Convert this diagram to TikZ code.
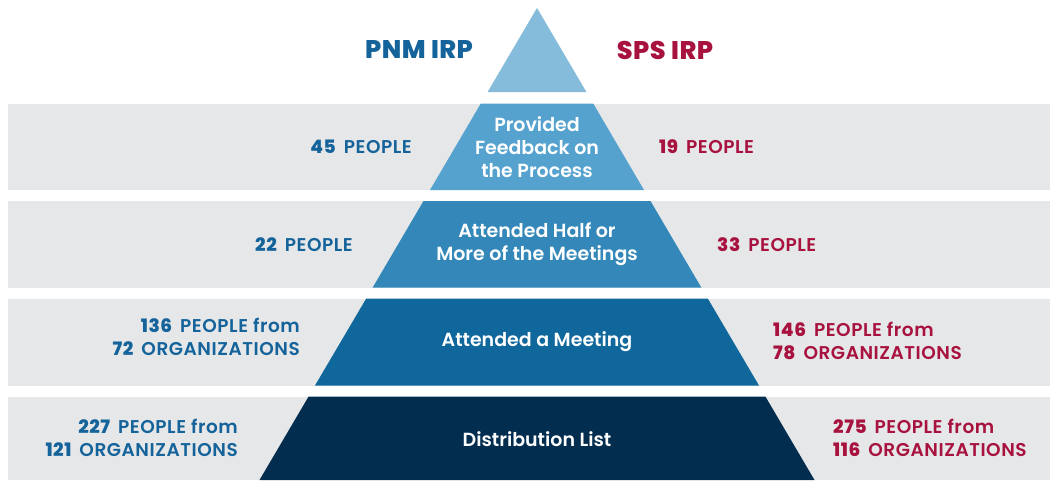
\documentclass[tikz,border=0pt]{standalone}
\usepackage{fontspec}
\setmainfont{Poppins}
\newfontfamily\semi{Poppins SemiBold}
\newfontfamily\semiwide{Poppins SemiBold}[LetterSpace=3]
\newfontfamily\heavy{Poppins ExtraBold}[LetterSpace=3]
\newfontfamily\heavytitle{Poppins ExtraBold}[LetterSpace=2]
\definecolor{bandgray}{HTML}{E6E7E8}
\definecolor{tierA}{HTML}{85BBDB}
\definecolor{tierB}{HTML}{55A2CF}
\definecolor{tierC}{HTML}{3388B9}
\definecolor{tierD}{HTML}{10679B}
\definecolor{tierE}{HTML}{032D4F}
\definecolor{pnmblue}{HTML}{15639B}
\definecolor{spsred}{HTML}{A8123F}
\newcommand{\num}[1]{{\heavy #1}\hspace{8pt}}
\begin{document}
\begin{tikzpicture}[x=1pt,y=-1pt,
  inner/.style={inner sep=0pt, text=white, align=center, font=\semi\fontsize{19}{23.3}\selectfont},
  pnm/.style={inner sep=0pt, text=pnmblue, align=right, anchor=east, font=\semiwide\fontsize{18.5}{23}\selectfont},
  sps/.style={inner sep=0pt, text=spsred, align=left, anchor=west, font=\semiwide\fontsize{18.5}{23}\selectfont},
  title/.style={inner sep=0pt, font=\heavytitle\fontsize{25.5}{30}\selectfont}]
\useasboundingbox (0,0) rectangle (1050,480);
\fill[white] (0,0) rectangle (1050,480);
% bands
\fill[bandgray] (8,103.5) rectangle (1050,190);
\fill[bandgray] (8,201) rectangle (1050,287.5);
\fill[bandgray] (8,298.7) rectangle (1050,385.5);
\fill[bandgray] (8,396.5) rectangle (1050,480);
% pyramid
\fill[tierA] (537,8) -- (586.4,92) -- (487.6,92) -- cycle;
\fill[tierB] (480.8,103.5) -- (593.2,103.5) -- (644.0,190) -- (430.0,190) -- cycle;
\fill[tierC] (423.5,201) -- (650.5,201) -- (701.3,287.5) -- (372.7,287.5) -- cycle;
\fill[tierD] (366.1,298.7) -- (707.9,298.7) -- (759.0,385.5) -- (315.0,385.5) -- cycle;
\fill[tierE] (308.6,396.5) -- (765.4,396.5) -- (814.5,480) -- (259.5,480) -- cycle;
% titles
\node[title, text=pnmblue] (pnmtitle) at (419,50) {PNM IRP};
\node[title, text=spsred] (spstitle) at (665,50) {SPS IRP};
% inner labels
\node[inner] (t1) at (537,147) {Provided\\Feedback on\\the Process};
\node[inner] (t2) at (537,244) {Attended Half or\\More of the Meetings};
\node[inner] (t3) at (537,342) {Attended a Meeting};
\node[inner] (t4) at (537,439) {Distribution List};
% PNM side
\node[pnm] (p1) at (412,147) {\num{45}PEOPLE};
\node[pnm] (p2) at (353,244.5) {\num{22}PEOPLE};
\node[pnm] (p3) at (300,336.5) {\num{136}PEOPLE from\\\num{72}ORGANIZATIONS};
\node[pnm] (p4) at (238,438) {\num{227}PEOPLE from\\\num{121}ORGANIZATIONS};
% SPS side
\node[sps] (s1) at (659,147) {\num{19}PEOPLE};
\node[sps] (s2) at (717,244.5) {\num{33}PEOPLE};
\node[sps] (s3) at (773,340.5) {\num{146}PEOPLE from\\\num{78}ORGANIZATIONS};
\node[sps] (s4) at (833,438) {\num{275}PEOPLE from\\\num{116}ORGANIZATIONS};
\end{tikzpicture}
\end{document}
